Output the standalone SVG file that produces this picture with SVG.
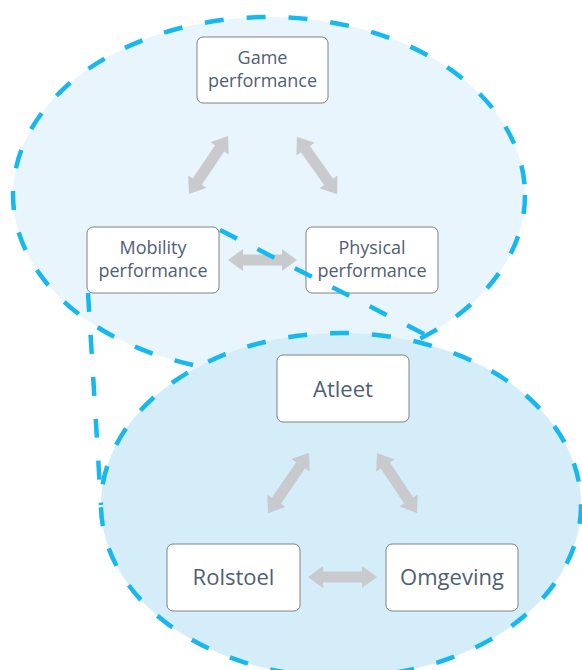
<svg xmlns="http://www.w3.org/2000/svg" width="582" height="670" viewBox="0 0 582 670">
  <style>
    .zone { stroke: #16B8EE; stroke-width: 4.5; stroke-dasharray: 19 23; }
    .callout { stroke: #16B8EE; stroke-width: 4.5; stroke-dasharray: 19 23; fill: none; }
    .box { fill: #FFFFFF; stroke: #7F8285; stroke-width: 1; }
    .arrow { fill: #C8CACD; }
    .lbl { font-family: "Open Sans", "Noto Sans", sans-serif; fill: #506074; text-anchor: middle; }
    .sm { font-size: 18px; }
    .lg { font-size: 22px; }
  </style>

  <!-- upper zone: performance levels -->
  <ellipse id="zone-performance" class="zone" cx="269" cy="195" rx="256" ry="178" fill="#E8F5FC"/>
  <!-- lower zone: athlete / wheelchair / environment -->
  <ellipse id="zone-factors" class="zone" cx="341" cy="505" rx="240" ry="172" fill="#D5EDF9"/>

  <!-- double-headed block arrows -->
  <g id="connectors">
    <polygon class="arrow" transform="translate(208.5,165) rotate(123.9)" points="-35,0 -20,-11 -20,-5.5 20,-5.5 20,-11 35,0 20,11 20,5.5 -20,5.5 -20,11"/>
    <polygon class="arrow" transform="translate(317,165.5) rotate(54.9)" points="-35,0 -20,-11 -20,-5.5 20,-5.5 20,-11 35,0 20,11 20,5.5 -20,5.5 -20,11"/>
    <polygon class="arrow" transform="translate(262.5,260)" points="-34.5,0 -19.5,-11 -19.5,-5.5 19.5,-5.5 19.5,-11 34.5,0 19.5,11 19.5,5.5 -19.5,5.5 -19.5,11"/>
    <polygon class="arrow" transform="translate(288.5,483) rotate(124.3)" points="-36.5,0 -21.5,-11 -21.5,-5.5 21.5,-5.5 21.5,-11 36.5,0 21.5,11 21.5,5.5 -21.5,5.5 -21.5,11"/>
    <polygon class="arrow" transform="translate(397,483) rotate(56.3)" points="-36,0 -21,-11 -21,-5.5 21,-5.5 21,-11 36,0 21,11 21,5.5 -21,5.5 -21,11"/>
    <polygon class="arrow" transform="translate(342.5,577)" points="-34.5,0 -19.5,-11 -19.5,-5.5 19.5,-5.5 19.5,-11 34.5,0 19.5,11 19.5,5.5 -19.5,5.5 -19.5,11"/>
  </g>

  <g id="game">
    <rect class="box" x="197" y="37" width="131" height="66" rx="6"/>
    <text class="lbl sm" x="262.5" y="64">Game</text>
    <text class="lbl sm" x="262.5" y="87">performance</text>
  </g>
  <g id="mobility">
    <rect class="box" x="87" y="227" width="132" height="66" rx="6"/>
    <text class="lbl sm" x="153" y="254">Mobility</text>
    <text class="lbl sm" x="153" y="277">performance</text>
  </g>
  <g id="physical">
    <rect class="box" x="306" y="227" width="132" height="66" rx="6"/>
    <text class="lbl sm" x="372" y="254">Physical</text>
    <text class="lbl sm" x="372" y="277">performance</text>
  </g>
  <g id="atleet">
    <rect class="box" x="277" y="355" width="132" height="67" rx="6"/>
    <text class="lbl lg" x="343" y="397">Atleet</text>
  </g>
  <g id="rolstoel">
    <rect class="box" x="167" y="544" width="133" height="67" rx="6"/>
    <text class="lbl lg" x="233.5" y="585">Rolstoel</text>
  </g>
  <g id="omgeving">
    <rect class="box" x="386" y="544" width="132" height="67" rx="6"/>
    <text class="lbl lg" x="452" y="585">Omgeving</text>
  </g>

  <!-- callout lines from Mobility performance to the lower zone -->
  <g id="callout">
    <line class="callout" x1="220" y1="230" x2="430" y2="337"/>
    <line class="callout" x1="88" y1="293" x2="101" y2="505"/>
  </g>
</svg>
